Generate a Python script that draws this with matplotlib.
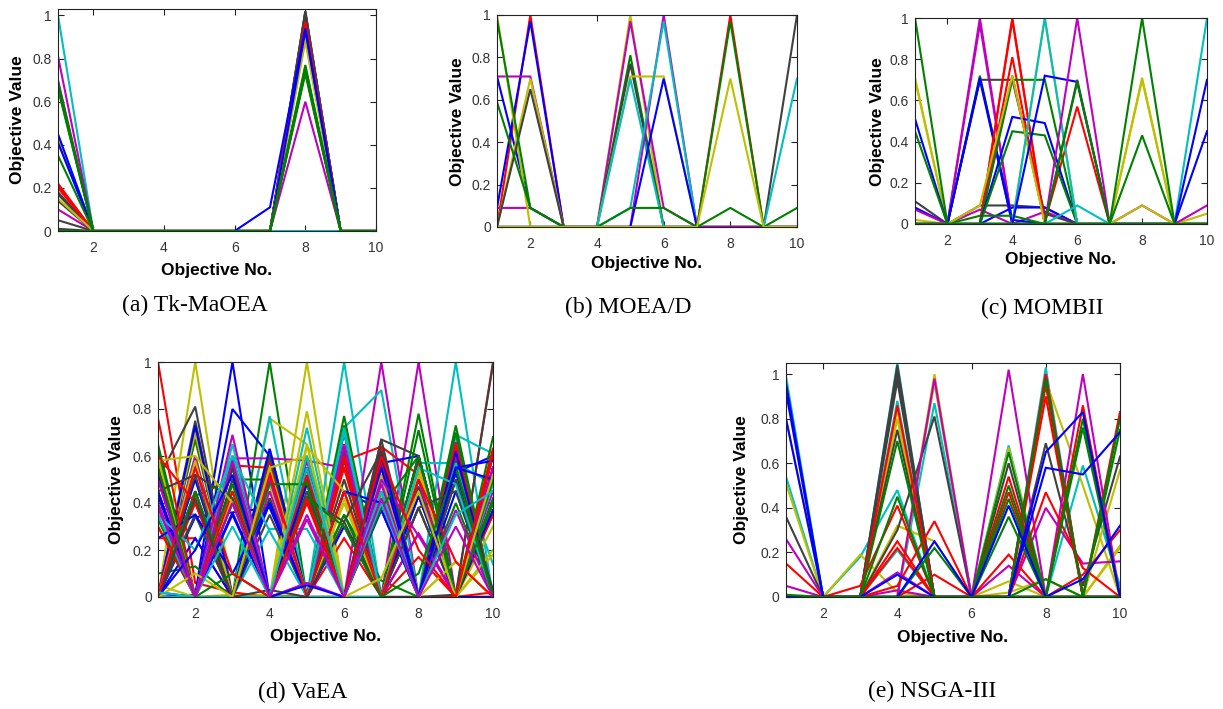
import matplotlib
matplotlib.use("Agg")
import matplotlib.pyplot as plt
import numpy as np

objectives = [1, 2, 3, 4, 5, 6, 7, 8, 9, 10]
x_ticks = [2, 4, 6, 8, 10]
y_ticks = [0, 0.2, 0.4, 0.6, 0.8, 1]
y_tick_labels = ["0", "0.2", "0.4", "0.6", "0.8", "1"]
titles = ["(a) Tk-MaOEA", "(b) MOEA/D", "(c) MOMBII", "(d) VaEA", "(e) NSGA-III"]

# ---------------- (a) Tk-MaOEA ----------------
a_rows = [
    [1.00, 0, 0, 0, 0, 0, 0, 0, 0, 0],
    [0.81, 0, 0, 0, 0, 0, 0, 0.60, 0, 0],
    [0.70, 0, 0, 0, 0, 0, 0, 0.93, 0, 0],
    [0.10, 0, 0, 0, 0, 0, 0, 0.92, 0, 0],
    [0.18, 0, 0, 0, 0, 0, 0, 1.02, 0, 0],
    [0.17, 0, 0, 0, 0, 0, 0, 1.01, 0, 0],
    [0.14, 0, 0, 0, 0, 0, 0, 1.00, 0, 0],
    [0.05, 0, 0, 0, 0, 0, 0, 1.02, 0, 0],
    [0.01, 0, 0, 0, 0, 0, 0, 1.01, 0, 0],
    [0.22, 0, 0, 0, 0, 0, 0, 0.97, 0, 0],
    [0.21, 0, 0, 0, 0, 0, 0, 0.96, 0, 0],
    [0.20, 0, 0, 0, 0, 0, 0, 0.95, 0, 0],
    [0.42, 0, 0, 0, 0, 0, 0, 0.91, 0, 0],
    [0.44, 0, 0, 0, 0, 0, 0, 0.89, 0, 0],
    [0.43, 0, 0, 0, 0, 0, 0, 0.90, 0, 0],
    [0.15, 0, 0, 0, 0, 0, 0, 0.88, 0, 0],
    [0.45, 0, 0, 0, 0, 0, 0.11, 0.94, 0, 0],
    [0.41, 0, 0, 0, 0, 0, 0, 0.93, 0, 0],
    [0.69, 0, 0, 0, 0, 0, 0, 0.76, 0, 0],
    [0.68, 0, 0, 0, 0, 0, 0, 0.75, 0, 0],
    [0.67, 0, 0, 0, 0, 0, 0, 0.74, 0, 0],
    [0.66, 0, 0, 0, 0, 0, 0, 0.73, 0, 0],
    [0.35, 0, 0, 0, 0, 0, 0, 0.77, 0, 0],
    [0.00, 0, 0, 0, 0, 0, 0, 0.75, 0, 0],
]
a_colors = "cmmmkkkkkrrrcyyybbgggggg"

# ---------------- (b) MOEA/D ----------------
b_rows = [
    [0, 1.00, 0, 0, 0, 0, 0, 0, 0, 0],
    [0.09, 0.97, 0, 0, 0, 0, 0, 0, 0, 0],
    [0.71, 0.09, 0, 0, 0, 0, 0, 0, 0, 0],
    [0.71, 0.71, 0, 0, 0, 0, 0, 0, 0, 0],
    [0.09, 0.09, 0, 0, 0, 0, 0, 0, 0, 0],
    [1.00, 0, 0, 0, 0, 0, 0, 0, 0, 0],
    [0, 0.70, 0, 0, 0, 0, 0, 0, 0, 0],
    [0, 0.65, 0, 0, 0, 0, 0, 0, 0, 0],
    [0.59, 0.09, 0, 0, 0, 0, 0, 0, 0, 0],
    [0, 0, 0, 0, 1.00, 0, 0, 0, 0, 0],
    [0, 0, 0, 0, 0.97, 0.09, 0, 0, 0, 0],
    [0, 0, 0, 0, 0.81, 0, 0, 0, 0, 0],
    [0, 0, 0, 0, 0.77, 0, 0, 0, 0, 0],
    [0, 0, 0, 0, 0.71, 0.71, 0, 0, 0, 0],
    [0, 0, 0, 0, 0.70, 0, 0, 0, 0, 0],
    [0, 0, 0, 0, 0, 1.00, 0, 0, 0, 0],
    [0, 0, 0, 0, 0.09, 0.97, 0, 0, 0, 0],
    [0, 0, 0, 0, 0, 0.70, 0, 0, 0, 0],
    [0, 0, 0, 0, 0, 0, 0, 1.00, 0, 0],
    [0, 0, 0, 0, 0, 0, 0, 0.97, 0, 0],
    [0, 0, 0, 0, 0, 0, 0, 0, 0, 1.00],
    [0, 0, 0, 0, 0, 0, 0, 0, 0, 0.70],
    [0, 0, 0, 0, 0, 0, 0, 0, 0, 0],
    [0.98, 0.09, 0, 0, 0.09, 0.09, 0, 0.09, 0, 0.09],
    [0, 0, 0, 0, 0, 0, 0, 0.70, 0, 0],
]
b_colors = "rbbmmyykgymgkycmcbrgkcmgy"

# ---------------- (c) MOMBII ----------------
c_rows = [
    [0.71, 0, 0, 0, 0, 0, 0, 0, 0, 0],
    [0.70, 0, 0, 0, 0, 0, 0, 0, 0, 0],
    [0.51, 0, 0, 0, 0, 0, 0, 0, 0, 0],
    [0.45, 0, 0, 0, 0, 0, 0, 0, 0, 0],
    [0.11, 0, 0.09, 0.09, 0.08, 0, 0, 0, 0, 0],
    [0.08, 0, 0, 0.08, 0.08, 0, 0, 0, 0, 0],
    [0.07, 0, 0.07, 0, 0.06, 0, 0, 0, 0, 0],
    [0.02, 0, 0, 0, 0, 0, 0, 0, 0, 0],
    [0, 0, 1.00, 0, 0, 0, 0, 0, 0, 0],
    [0, 0, 0.97, 0, 0, 0, 0, 0, 0, 0],
    [0, 0, 0.72, 0, 0, 0, 0, 0, 0, 0],
    [0, 0, 0.70, 0.70, 0.05, 0, 0, 0, 0, 0],
    [0, 0, 0.70, 0, 0, 0, 0, 0, 0, 0],
    [0, 0, 0.71, 0.02, 0, 0, 0, 0, 0, 0],
    [0, 0, 0, 1.00, 0, 0, 0, 0, 0, 0],
    [0, 0, 0, 0.99, 0, 0, 0, 0, 0, 0],
    [0, 0, 0, 0.81, 0, 0, 0, 0, 0, 0],
    [0, 0, 0.04, 0.04, 0, 0, 0, 0, 0, 0],
    [0, 0, 0, 0.72, 0.01, 0.57, 0, 0, 0, 0],
    [0, 0, 0, 0.70, 0.70, 0, 0, 0, 0, 0],
    [0, 0, 0, 0.52, 0.49, 0, 0, 0, 0, 0],
    [0, 0, 0, 0.45, 0.43, 0, 0, 0, 0, 0],
    [0, 0, 0.09, 0.72, 0, 0, 0, 0, 0, 0],
    [0, 0, 0, 0, 1.00, 0, 0, 0, 0, 0],
    [0, 0, 0, 0, 1.00, 0, 0, 0, 0, 0],
    [0, 0, 0, 0, 0.72, 0.69, 0, 0, 0, 0],
    [0, 0, 0, 0, 0, 0.09, 0, 0, 0, 0],
    [0, 0, 0, 0, 0, 1.00, 0, 0, 0, 0],
    [0, 0, 0, 0, 0, 0.70, 0, 0, 0, 0],
    [0, 0, 0, 0, 0, 0.69, 0, 0, 0, 0],
    [0, 0, 0, 0, 0, 0, 0, 0.71, 0, 0],
    [0, 0, 0, 0, 0, 0, 0, 0.70, 0, 0.05],
    [0, 0, 0, 0, 0, 0, 0, 0.43, 0, 0],
    [0, 0, 0, 0, 0, 0, 0, 0.09, 0, 0.09],
    [0, 0, 0, 0, 0, 0, 0, 0.09, 0, 0],
    [0, 0, 0, 0, 0, 0, 0, 0, 0, 1.00],
    [0, 0, 0, 0, 0, 0, 0, 0, 0, 0.70],
    [0, 0, 0, 0, 0, 0, 0, 0, 0, 0.45],
    [1.00, 0, 0, 0, 0, 0, 0, 0, 0, 0],
    [0, 0, 0, 0, 0, 0, 0, 1.00, 0, 0],
]
c_colors = "yybgkbmymmgkbbrrrgrgbgyycbcmkgyygmycbbgg"

# ---------------- (d) VaEA ----------------
d_rows = [
    [1.00, 0.06, 0.02, 0, 0, 0, 0, 0, 0, 0],
    [0, 1.00, 0, 0.01, 0, 0, 0, 0, 0, 0],
    [0, 0.01, 1.00, 0, 0, 0, 0, 0, 0, 0],
    [0, 0, 0, 1.00, 0, 0, 0, 0, 0, 0],
    [0, 0, 0.01, 0, 1.00, 0, 0, 0, 0, 0],
    [0, 0, 0, 0, 0, 1.00, 0, 0, 0, 0],
    [0, 0, 0, 0, 0, 0, 1.00, 0, 0, 0],
    [0, 0, 0, 0, 0, 0, 0, 1.00, 0, 0],
    [0, 0, 0, 0, 0, 0, 0, 0, 1.00, 0],
    [0, 0, 0, 0, 0, 0, 0, 0, 0, 1.00],
    [0, 0, 0, 0, 0, 0, 0, 0, 0.01, 0.99],
    [0.02, 0.00, 0.80, 0.60, 0.00, 0.70, 0.00, 0.60, 0.00, 0.60],
    [0.05, 0.00, 0.00, 0.76, 0.65, 0.00, 0.43, 0.00, 0.15, 0.00],
    [0.00, 0.00, 0.00, 0.77, 0.00, 0.72, 0.88, 0.00, 0.69, 0.61],
    [0.00, 0.00, 0.59, 0.59, 0.58, 0.55, 0.00, 0.27, 0.00, 0.40],
    [0.50, 0.81, 0.00, 0.42, 0.00, 0.65, 0.00, 0.38, 0.00, 0.55],
    [0.10, 0.13, 0.00, 0.48, 0.00, 0.35, 0.07, 0.00, 0.40, 0.00],
    [0.25, 0.25, 0.00, 0.55, 0.00, 0.25, 0.00, 0.17, 0.00, 0.02],
    [0.38, 0.35, 0.00, 0.29, 0.29, 0.00, 0.50, 0.00, 0.57, 0.48],
    [0.00, 0.34, 0.36, 0.38, 0.00, 0.45, 0.37, 0.00, 0.53, 0.60],
    [0.00, 0.43, 0.50, 0.50, 0.00, 0.77, 0.00, 0.78, 0.00, 0.68],
    [0.30, 0.00, 0.56, 0.55, 0.00, 0.58, 0.64, 0.52, 0.00, 0.63],
    [0.00, 0.75, 0.00, 0.00, 0.00, 0.00, 0.67, 0.60, 0.00, 0.00],
    [0.52, 0.00, 0.45, 0.00, 0.00, 0.00, 0.57, 0.60, 0.00, 0.00],
    [0.00, 0.00, 0.00, 0.00, 0.00, 0.00, 0.00, 0.57, 0.57, 0.14],
    [0.00, 0.67, 0.00, 0.63, 0.00, 0.73, 0.00, 0.71, 0.00, 0.40],
    [0.01, 0.70, 0.00, 0.55, 0.00, 0.58, 0.00, 0.52, 0.00, 0.63],
    [0.00, 0.72, 0.00, 0.42, 0.00, 0.62, 0.00, 0.38, 0.00, 0.55],
    [0.00, 0.50, 0.00, 0.40, 0.00, 0.70, 0.00, 0.43, 0.00, 0.37],
    [0.00, 0.56, 0.00, 0.45, 0.00, 0.65, 0.00, 0.27, 0.01, 0.45],
    [0.00, 0.70, 0.00, 0.52, 0.00, 0.50, 0.00, 0.45, 0.00, 0.52],
    [0.02, 0.35, 0.00, 0.50, 0.00, 0.72, 0.00, 0.50, 0.00, 0.48],
    [0.00, 0.45, 0.00, 0.60, 0.00, 0.60, 0.00, 0.60, 0.00, 0.42],
    [0.00, 0.40, 0.00, 0.58, 0.00, 0.55, 0.00, 0.58, 0.00, 0.60],
    [0.00, 0.52, 0.00, 0.60, 0.00, 0.60, 0.00, 0.55, 0.00, 0.50],
    [0.00, 0.73, 0.00, 0.63, 0.00, 0.45, 0.00, 0.60, 0.00, 0.55],
    [0.00, 0.60, 0.00, 0.48, 0.00, 0.42, 0.00, 0.52, 0.00, 0.30],
    [0.00, 0.35, 0.00, 0.35, 0.00, 0.50, 0.00, 0.47, 0.00, 0.35],
    [0.00, 0.58, 0.00, 0.55, 0.00, 0.35, 0.00, 0.60, 0.00, 0.50],
    [0.00, 0.45, 0.00, 0.52, 0.00, 0.60, 0.00, 0.50, 0.00, 0.35],
    [0.01, 0.60, 0.00, 0.50, 0.00, 0.64, 0.00, 0.50, 0.00, 0.55],
    [0.00, 0.58, 0.00, 0.55, 0.00, 0.40, 0.00, 0.55, 0.00, 0.18],
    [0.00, 0.25, 0.00, 0.40, 0.00, 0.30, 0.00, 0.43, 0.00, 0.37],
    [0.43, 0.00, 0.36, 0.00, 0.50, 0.00, 0.57, 0.00, 0.45, 0.00],
    [0.65, 0.00, 0.55, 0.00, 0.60, 0.00, 0.55, 0.00, 0.73, 0.00],
    [0.76, 0.00, 0.56, 0.00, 0.40, 0.00, 0.64, 0.00, 0.63, 0.00],
    [0.38, 0.00, 0.65, 0.00, 0.72, 0.00, 0.50, 0.00, 0.69, 0.00],
    [0.45, 0.00, 0.69, 0.00, 0.58, 0.00, 0.52, 0.00, 0.66, 0.00],
    [0.60, 0.00, 0.42, 0.00, 0.79, 0.00, 0.43, 0.00, 0.15, 0.00],
    [0.55, 0.00, 0.50, 0.00, 0.45, 0.00, 0.67, 0.00, 0.56, 0.00],
    [0.52, 0.00, 0.60, 0.00, 0.55, 0.00, 0.37, 0.00, 0.53, 0.00],
    [0.63, 0.00, 0.48, 0.00, 0.43, 0.00, 0.40, 0.00, 0.70, 0.00],
    [0.30, 0.00, 0.60, 0.00, 0.50, 0.00, 0.55, 0.00, 0.60, 0.00],
    [0.50, 0.00, 0.40, 0.00, 0.55, 0.00, 0.60, 0.00, 0.58, 0.00],
    [0.58, 0.00, 0.45, 0.00, 0.65, 0.00, 0.52, 0.00, 0.50, 0.00],
    [0.40, 0.00, 0.55, 0.00, 0.33, 0.00, 0.48, 0.00, 0.37, 0.00],
    [0.33, 0.00, 0.40, 0.00, 0.50, 0.00, 0.45, 0.00, 0.50, 0.01],
    [0.35, 0.00, 0.60, 0.00, 0.55, 0.00, 0.45, 0.00, 0.57, 0.00],
    [0.55, 0.00, 0.45, 0.00, 0.52, 0.00, 0.58, 0.00, 0.65, 0.00],
    [0.45, 0.00, 0.55, 0.00, 0.42, 0.00, 0.62, 0.00, 0.50, 0.00],
    [0.45, 0.00, 0.35, 0.00, 0.48, 0.00, 0.55, 0.00, 0.62, 0.00],
    [0.45, 0.52, 0.42, 0.00, 0.42, 0.32, 0.00, 0.38, 0.45, 0.00],
    [0.25, 0.35, 0.10, 0.40, 0.00, 0.45, 0.40, 0.00, 0.55, 0.58],
    [0.58, 0.60, 0.40, 0.00, 0.64, 0.45, 0.00, 0.55, 0.00, 0.20],
    [0.35, 0.20, 0.60, 0.28, 0.00, 0.70, 0.00, 0.55, 0.48, 0.00],
    [0.38, 0.00, 0.58, 0.00, 0.06, 0.00, 0.50, 0.26, 0.00, 0.55],
    [0.00, 0.45, 0.00, 0.48, 0.48, 0.00, 0.38, 0.60, 0.00, 0.40],
    [0.60, 0.40, 0.00, 0.53, 0.00, 0.45, 0.00, 0.50, 0.15, 0.00],
    [0.00, 0.42, 0.00, 0.03, 0.00, 0.32, 0.62, 0.00, 0.55, 0.03],
    [0.55, 0.00, 0.10, 0.00, 0.42, 0.30, 0.00, 0.10, 0.55, 0.00],
    [0.00, 0.20, 0.52, 0.00, 0.05, 0.00, 0.60, 0.00, 0.55, 0.50],
    [0.00, 0.10, 0.00, 0.55, 0.60, 0.00, 0.08, 0.45, 0.00, 0.52],
    [0.00, 0.55, 0.10, 0.00, 0.42, 0.00, 0.60, 0.20, 0.00, 0.62],
    [0.02, 0.00, 0.30, 0.00, 0.60, 0.00, 0.40, 0.00, 0.35, 0.45],
    [0.50, 0.00, 0.40, 0.00, 0.35, 0.00, 0.42, 0.00, 0.30, 0.00],
]
d_colors = ("rybgycmmcrk" "bycmkgrcbgrkbc" "grkbmycgrkbykgrmyb" "bgrcmykbgrkymgcrkb"
            "kbycmgrkgbyrcm")

# ---------------- (e) NSGA-III ----------------
e_rows = [
    [0.99, 0, 0, 0, 0, 0, 0.68, 0, 0, 0],
    [0.54, 0, 0, 0, 0, 0, 0, 1.03, 0, 0],
    [0, 0, 0, 1.05, 0, 0, 0, 0, 0.59, 0.05],
    [0, 0, 0, 0.88, 0, 0, 0, 0, 0, 0],
    [0, 0, 0.18, 0.48, 0, 0, 0, 0, 0, 0],
    [0, 0, 0, 0.21, 0, 0, 0, 0, 0, 0],
    [0, 0, 0, 0, 0.87, 0, 0, 0, 0, 0],
    [0.80, 0, 0, 0, 0, 0, 0.67, 0, 0, 0],
    [0.51, 0, 0, 0, 0, 0, 0.07, 0, 0, 0],
    [0, 0, 0.19, 0.02, 0, 0, 0.02, 0.08, 0, 0],
    [0, 0, 0, 0.84, 0, 0, 0, 0.97, 0.50, 0],
    [0, 0, 0, 0.80, 0, 0, 0, 0, 0, 0.57],
    [0, 0, 0, 0.32, 0.25, 0, 0, 0, 0, 0.23],
    [0, 0, 0, 0, 1.00, 0, 0, 0, 0, 0.22],
    [0, 0, 0, 0, 0.96, 0, 0, 0, 0, 0],
    [0.36, 0, 0, 0, 0, 0, 0.60, 0, 0, 0],
    [0, 0, 0, 1.04, 0, 0, 0, 0.69, 0.05, 0.63],
    [0, 0, 0, 1.02, 0, 0, 0, 0, 0, 0],
    [0, 0, 0, 1.00, 0, 0, 0, 0, 0, 0],
    [0, 0, 0, 0.97, 0, 0, 0, 0, 0, 0],
    [0, 0, 0, 0.75, 0, 0, 0, 0, 0, 0],
    [0, 0, 0, 0.30, 0.81, 0, 0, 0, 0, 0],
    [0.26, 0, 0, 0, 0, 0, 1.02, 0, 0, 0],
    [0.05, 0, 0, 0, 0, 0, 0.14, 0, 0, 0],
    [0, 0, 0, 0.11, 0, 0, 0, 1.00, 0, 0],
    [0, 0, 0, 0.03, 0, 0, 0, 0, 1.00, 0],
    [0, 0, 0, 0, 0.98, 0, 0, 0.40, 0.15, 0.16],
    [0.15, 0, 0, 0, 0, 0, 0.54, 0, 0, 0],
    [0, 0, 0.05, 0.41, 0, 0, 0.47, 0, 0, 0],
    [0, 0, 0, 0.86, 0, 0, 0.19, 0, 0, 0],
    [0, 0, 0, 0.25, 0, 0, 0, 1.00, 0, 0],
    [0, 0, 0, 0.22, 0, 0, 0, 0.98, 0, 0],
    [0, 0, 0, 0.05, 0.34, 0, 0, 0.95, 0, 0],
    [0, 0, 0, 0, 0.10, 0, 0, 0.90, 0, 0],
    [0, 0, 0, 0, 0, 0, 0, 0.47, 0.13, 0],
    [0, 0, 0, 0, 0, 0, 0, 0, 0.86, 0],
    [0, 0, 0, 0, 0, 0, 0, 0, 0.10, 0.30],
    [0, 0, 0, 0, 0, 0, 0, 0, 0, 0.83],
    [0, 0, 0, 0.70, 0, 0, 0.65, 0, 0, 0],
    [0, 0, 0, 0.45, 0, 0, 0.50, 0, 0, 0],
    [0, 0, 0, 0, 0.22, 0, 0.44, 0, 0, 0],
    [0, 0, 0, 0, 0, 0, 0.36, 0, 0, 0],
    [0, 0, 0, 0, 0, 0, 0, 0.98, 0, 0],
    [0, 0, 0, 0, 0, 0, 0, 0.08, 0, 0],
    [0, 0, 0, 0, 0, 0, 0, 0, 0.80, 0],
    [0, 0, 0, 0, 0, 0, 0, 0, 0.76, 0],
    [0, 0, 0, 0, 0, 0, 0, 0, 0, 0.80],
    [0, 0, 0, 0, 0, 0, 0, 0, 0, 0.75],
    [0.96, 0, 0, 0, 0, 0, 0.41, 0, 0, 0],
    [0.92, 0, 0, 0, 0, 0, 0, 0.65, 0.83, 0],
    [0.80, 0, 0, 0, 0, 0, 0, 0.58, 0.55, 0.74],
    [0, 0, 0, 0.10, 0, 0, 0, 0, 0.08, 0.32],
    [0, 0, 0, 0, 0.25, 0, 0, 0, 0, 0],
    [0.01, 0, 0, 0, 0, 0, 0, 0, 0, 0],
]
e_colors = "ccccccc" "yyyyyyyy" "kkkkkkk" "mmmmm" "rrrrrrrrrrr" "gggggggggg" "bbbbb" "g"

# ---------------- styling ----------------
matlab_colors = {
    "b": (0.0, 0.0, 1.0), "g": (0.0, 0.5, 0.0), "r": (1.0, 0.0, 0.0),
    "c": (0.0, 0.75, 0.75), "m": (0.75, 0.0, 0.75), "y": (0.75, 0.75, 0.0),
    "k": (0.25, 0.25, 0.25),
}

W, H = 1223, 709
fig = plt.figure(figsize=(W / 100, H / 100), dpi=100)

# pixel boxes: left, right, top, bottom
boxes = [(58, 376, 9, 231), (497, 797, 15, 227), (915, 1207, 18, 224),
         (158, 493, 362, 597), (786, 1120, 363, 597)]
ytops = [1.03, 1.0, 1.0, 1.0, 1.05]
xlabel_pos = [-0.176, -0.170, -0.170, -0.170, -0.171]
ylabel_pos = [(-0.126, 0.5), (-0.133, 0.495), (-0.130, 0.495), (-0.125, 0.5), (-0.132, 0.5)]
title_pos = [(195, 305), (628, 307), (1042, 308), (303, 692), (932, 691)]

all_rows = [a_rows, b_rows, c_rows, d_rows, e_rows]
all_colors = [a_colors, b_colors, c_colors, d_colors, e_colors]

for i in range(5):
    L, R, T, B = boxes[i]
    ax = fig.add_axes([L / W, (H - B) / H, (R - L) / W, (B - T) / H])
    rows = all_rows[i]
    cols = all_colors[i]
    for row, cc in zip(rows, cols):
        ax.plot(objectives, row, color=matlab_colors[cc], lw=1.5, solid_joinstyle="miter")
    ax.set_xlim(1, 10)
    ax.set_ylim(0, ytops[i])
    ax.set_xticks(x_ticks)
    ax.set_xticklabels([str(t) for t in x_ticks])
    ax.set_yticks(y_ticks)
    ax.set_yticklabels(y_tick_labels)
    ax.tick_params(direction="in", length=4, width=0.8, top=True, right=True,
                   labelsize=10, labelcolor="#333333", color="#222222")
    ax.tick_params(axis="x", pad=7.5)
    ax.tick_params(axis="y", pad=4.5)
    for lab in ax.get_xticklabels() + ax.get_yticklabels():
        lab.set_fontfamily("Liberation Sans")
    for sp in ax.spines.values():
        sp.set_linewidth(0.8)
        sp.set_color("#222222")
    ax.set_xlabel("Objective No.", fontfamily="Liberation Sans", fontweight="bold",
                  fontsize=12.5, va="center")
    ax.xaxis.set_label_coords(0.5, xlabel_pos[i])
    ax.set_ylabel("Objective Value", fontfamily="Liberation Sans", fontweight="bold",
                  fontsize=12.5, va="center")
    ax.yaxis.set_label_coords(*ylabel_pos[i])
    tx, ty = title_pos[i]
    fig.text(tx / W, 1 - ty / H, titles[i], ha="center", va="center",
             fontfamily="Liberation Serif", fontsize=17)

fig.savefig("out.png", dpi=100)
